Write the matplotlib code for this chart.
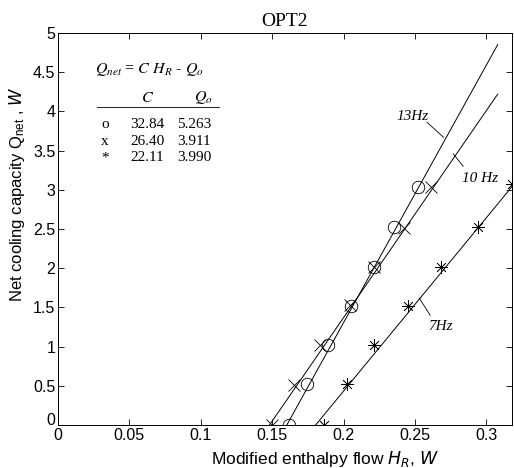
import numpy as np
import matplotlib
matplotlib.use('Agg')
import matplotlib.pyplot as plt

# fit coefficients  Qnet = C*HR - Qo
labels = ['13Hz', '10 Hz', '7Hz']
C = [32.84, 26.40, 22.11]
Qo = [5.263, 3.911, 3.990]
x_end = [0.308, 0.308, 0.318]
sym = ['o', 'x', '*']

# measured points
h13 = [0.162, 0.1745, 0.189, 0.205, 0.221, 0.235, 0.252]
q13 = [0.0, 0.52, 1.02, 1.52, 2.02, 2.52, 3.04]
h10 = [0.150, 0.165, 0.1836, 0.2046, 0.221, 0.2425, 0.261]
q10 = [0.0, 0.51, 1.02, 1.53, 2.02, 2.51, 3.04]
h7 = [0.186, 0.2025, 0.2215, 0.245, 0.268, 0.294, 0.318]
q7 = [0.0, 0.52, 1.02, 1.52, 2.02, 2.53, 3.08]

xticks = [0, 0.05, 0.1, 0.15, 0.2, 0.25, 0.3]
yticks = [0, 0.5, 1, 1.5, 2, 2.5, 3, 3.5, 4, 4.5, 5]

fig = plt.figure(figsize=(5.14, 4.68), dpi=100)
ax = fig.add_axes([58/514, 1 - 425/468, (512-58)/514, (425-33)/468])

for c, q, xe in zip(C, Qo, x_end):
    xs = np.array([q / c, xe])
    ax.plot(xs, c * xs - q, color='k', lw=0.7)

ax.plot(h13, q13, 'o', mfc='none', mec='k', ms=9, mew=0.6)
ax.plot(h10, q10, 'x', color='k', ms=9, mew=0.6)
ax.plot(h7, q7, marker=(8, 2, 0), ls='none', color='k', ms=9, mew=0.5)

serif = 'Liberation Serif'
ax.text(0.248, 3.94, '13Hz', family=serif, style='italic', fontsize=11, ha='center', va='center')
ax.plot([0.2586, 0.270], [3.86, 3.67], color='k', lw=0.6)
ax.text(0.2957, 3.14, '10 Hz', family=serif, style='italic', fontsize=11, ha='center', va='center')
ax.plot([0.2768, 0.2838], [3.46, 3.30], color='k', lw=0.6)
ax.text(0.2677, 1.26, '7Hz', family=serif, style='italic', fontsize=11, ha='center', va='center')
ax.plot([0.253, 0.2607], [1.62, 1.40], color='k', lw=0.6)

# inset table
ax.text(0.026, 4.53, r'$Q_{net}$ = $C$ $H_R$ - $Q_o$', family=serif, fontsize=11.5, va='center',
        math_fontfamily='stix')
ax.text(0.0624, 4.18, r'$C$', fontsize=11.5, ha='center', va='center', math_fontfamily='stix')
ax.text(0.1016, 4.18, r'$Q_o$', fontsize=11.5, ha='center', va='center', math_fontfamily='stix')
ax.plot([0.027, 0.113], [4.06, 4.06], color='k', lw=0.6)
for i in range(3):
    y = 3.83 - i * 0.21
    ax.text(0.033, y, sym[i], family=serif, fontsize=11, ha='center', va='center')
    ax.text(0.0624, y, '%.2f' % C[i], family=serif, fontsize=11, ha='center', va='center')
    ax.text(0.0955, y, '%.3f' % Qo[i], family=serif, fontsize=11, ha='center', va='center')

ax.set_xlim(0, 0.318)
ax.set_ylim(0, 5)
ax.set_xticks(xticks)
ax.set_xticklabels([('%g' % t) for t in xticks], family='Liberation Sans', fontsize=11.5)
ax.set_yticks(yticks)
ylab = ax.set_yticklabels([('%g' % t) for t in yticks], family='Liberation Sans', fontsize=11.5)
ylab[0].set_va('baseline')
ax.tick_params(direction='in', top=True, right=True, length=4, width=0.6, pad=2)
for s in ax.spines.values():
    s.set_linewidth(0.7)

ax.set_title('OPT2', family=serif, fontsize=14, pad=5)
ax.set_xlabel(r'Modified enthalpy flow $H_R$, $W$', family='Liberation Sans', fontsize=12.5)
ax.xaxis.set_label_coords(0.588, -0.06)
ax.set_ylabel(r'Net cooling capacity $\mathregular{Q_{net}}$ , $W$', family='Liberation Sans', fontsize=12)
ax.yaxis.set_label_coords(-0.068, 0.59)

fig.savefig('out.png', dpi=100)
